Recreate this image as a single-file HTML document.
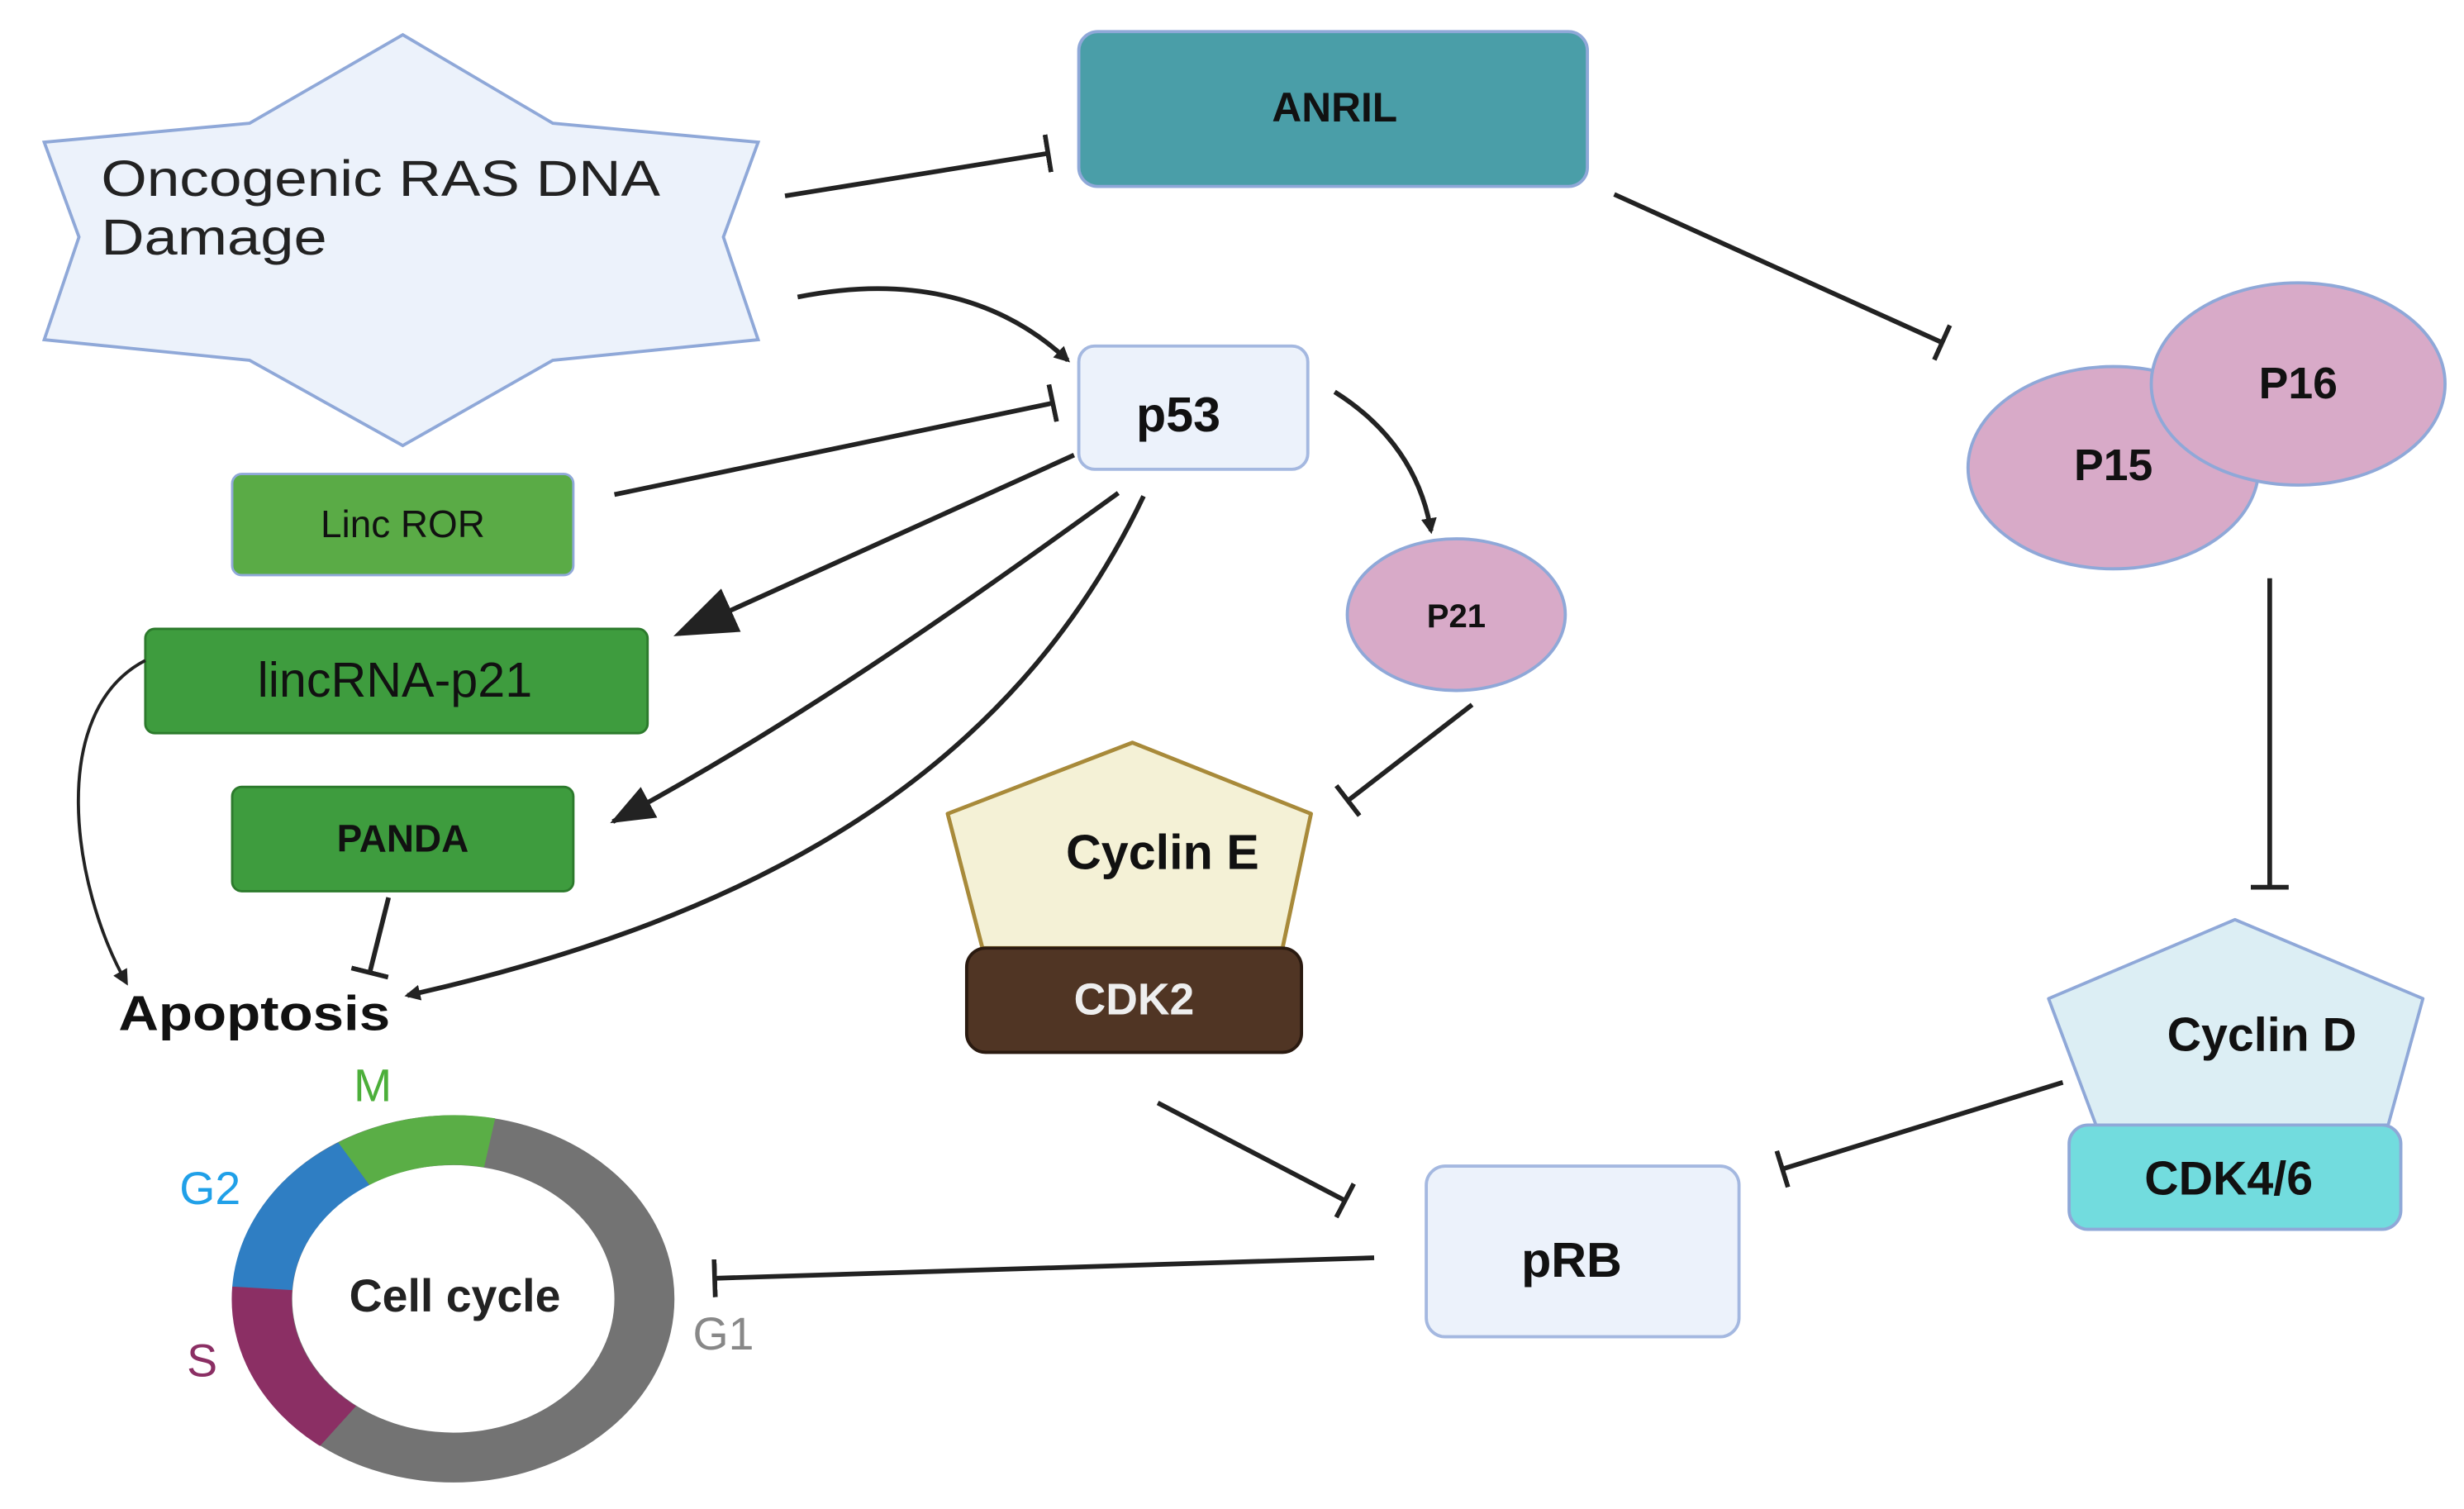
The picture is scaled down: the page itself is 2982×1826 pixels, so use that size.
<!DOCTYPE html>
<html><head><meta charset="utf-8"><style>
html,body{margin:0;padding:0;background:#fff;}
svg{display:block;}
text{font-family:"Liberation Sans",sans-serif;}
</style></head><body>
<svg width="2982" height="1826" viewBox="0 0 1560 955" preserveAspectRatio="none" xmlns="http://www.w3.org/2000/svg">
<defs>
<marker id="ah" markerWidth="10" markerHeight="10" refX="8" refY="5" orient="auto" markerUnits="userSpaceOnUse"><path d="M0,0 L10,5 L0,10 z" fill="#222"/></marker>
<marker id="ahb" markerWidth="40" markerHeight="30" refX="36" refY="15" orient="auto" markerUnits="userSpaceOnUse"><path d="M0,0 L40,15 L0,30 z" fill="#222"/></marker>
<marker id="ahm" markerWidth="28" markerHeight="22" refX="26" refY="11" orient="auto" markerUnits="userSpaceOnUse"><path d="M0,0 L28,11 L0,22 z" fill="#222"/></marker>
<marker id="tb" markerWidth="4" markerHeight="24" refX="2" refY="12" orient="auto" markerUnits="userSpaceOnUse"><rect x="0" y="0" width="3" height="24" fill="#222"/></marker>
</defs>

<polygon points="255,22 350,78 480,90 458,150 480,215 350,228 255,282 158,228 28,215 50,150 28,90 158,78" fill="#ecf2fb" stroke="#8fa8d8" stroke-width="2"/>
<text x="64" y="124" font-size="32" fill="#222" textLength="354" lengthAdjust="spacingAndGlyphs">Oncogenic RAS DNA</text>
<text x="64" y="161" font-size="32" fill="#222" textLength="143" lengthAdjust="spacingAndGlyphs">Damage</text>

<rect x="683" y="20" width="322" height="98" rx="12" fill="#4a9ea8" stroke="#8fa8d8" stroke-width="2"/>
<text x="845" y="77" font-size="26" font-weight="bold" text-anchor="middle" fill="#111">ANRIL</text>

<rect x="683" y="219" width="145" height="78" rx="10" fill="#ecf2fb" stroke="#a4b8e0" stroke-width="2"/>
<text x="746" y="273" font-size="31" font-weight="bold" text-anchor="middle" fill="#111">p53</text>

<rect x="147" y="300" width="216" height="64" rx="6" fill="#5aab46" stroke="#8fa8d8" stroke-width="1.5"/>
<text x="255" y="340" font-size="24" text-anchor="middle" fill="#111">Linc ROR</text>

<rect x="92" y="398" width="318" height="66" rx="6" fill="#3e9c3e" stroke="#2c7a2c" stroke-width="1.5"/>
<text x="250" y="441" font-size="31" text-anchor="middle" fill="#111">lincRNA-p21</text>

<rect x="147" y="498" width="216" height="66" rx="6" fill="#3e9c3e" stroke="#2c7a2c" stroke-width="1.5"/>
<text x="255" y="539" font-size="24" font-weight="bold" text-anchor="middle" fill="#111">PANDA</text>

<text x="75" y="652" font-size="31" font-weight="bold" fill="#111" textLength="172" lengthAdjust="spacingAndGlyphs">Apoptosis</text>

<ellipse cx="922" cy="389" rx="69" ry="48" fill="#d8aac8" stroke="#8fa8d8" stroke-width="2"/>
<text x="922" y="397" font-size="21" font-weight="bold" text-anchor="middle" fill="#111">P21</text>

<ellipse cx="1338" cy="296" rx="92" ry="64" fill="#d8aac8" stroke="#8fa8d8" stroke-width="2"/>
<ellipse cx="1455" cy="243" rx="93" ry="64" fill="#d8aac8" stroke="#8fa8d8" stroke-width="2"/>
<text x="1338" y="304" font-size="28" font-weight="bold" text-anchor="middle" fill="#111">P15</text>
<text x="1455" y="252" font-size="28" font-weight="bold" text-anchor="middle" fill="#111">P16</text>

<polygon points="717,470 830,515 812,600 622,600 600,515" fill="#f4f1d6" stroke="#a88a3a" stroke-width="2.5" stroke-linejoin="round"/>
<rect x="612" y="600" width="212" height="66" rx="12" fill="#503524" stroke="#2a1a10" stroke-width="2"/>
<text x="736" y="550" font-size="31" font-weight="bold" text-anchor="middle" fill="#111">Cyclin E</text>
<text x="718" y="642" font-size="28" font-weight="bold" text-anchor="middle" fill="#eee">CDK2</text>

<polygon points="1415,582 1534,632 1512,712 1327,712 1297,632" fill="#dceef4" stroke="#8fa8d8" stroke-width="2" stroke-linejoin="round"/>
<rect x="1310" y="712" width="210" height="66" rx="12" fill="#72dcde" stroke="#8fa8d8" stroke-width="2"/>
<text x="1432" y="665" font-size="30" font-weight="bold" text-anchor="middle" fill="#111">Cyclin D</text>
<text x="1411" y="756" font-size="30" font-weight="bold" text-anchor="middle" fill="#111">CDK4/6</text>

<rect x="903" y="738" width="198" height="108" rx="12" fill="#ecf2fb" stroke="#a4b8e0" stroke-width="2"/>
<text x="995" y="808" font-size="31" font-weight="bold" text-anchor="middle" fill="#111">pRB</text>

<g transform="translate(287,822) scale(1,0.83)" fill="none" stroke-width="38">
<circle r="121" stroke="#737373"/>
<path d="M23,-119 A121,121 0 0 0 -63,-103" stroke="#5aae46"/>
<path d="M-63,-103 A121,121 0 0 0 -121,-8" stroke="#2f7ec3"/>
<path d="M-121,-8 A121,121 0 0 0 -73,97" stroke="#8b2f64"/>
</g>
<text x="288" y="830" font-size="29" font-weight="bold" text-anchor="middle" fill="#222">Cell cycle</text>
<text x="236" y="697" font-size="29" text-anchor="middle" fill="#4caf3a">M</text>
<text x="133" y="762" font-size="29" text-anchor="middle" fill="#20a0e8">G2</text>
<text x="128" y="871" font-size="29" text-anchor="middle" fill="#8b2f64">S</text>
<text x="458" y="854" font-size="29" text-anchor="middle" fill="#888">G1</text>

<g stroke="#222" stroke-width="3" fill="none">
<line x1="497" y1="124" x2="664" y2="97" marker-end="url(#tb)"/>
<path d="M505,188 C570,175 630,185 676,228" marker-end="url(#ah)"/>
<line x1="389" y1="313" x2="667" y2="255" marker-end="url(#tb)"/>
<line x1="1022" y1="123" x2="1230" y2="217" marker-end="url(#tb)"/>
<path d="M845,248 C880,270 900,300 906,336" marker-end="url(#ah)"/>
<line x1="680" y1="288" x2="430" y2="401" marker-end="url(#ahb)"/>
<path d="M708,312 C600,390 500,460 388,520" marker-end="url(#ahm)"/>
<path d="M724,314 C640,490 480,580 258,630" marker-end="url(#ah)"/>
<path d="M92,418 C30,450 45,560 80,622" stroke-width="2" marker-end="url(#ah)"/>
<line x1="246" y1="568" x2="234" y2="616" marker-end="url(#tb)"/>
<line x1="932" y1="446" x2="853" y2="507" marker-end="url(#tb)"/>
<line x1="1437" y1="366" x2="1437" y2="562" marker-end="url(#tb)"/>
<line x1="1306" y1="685" x2="1128" y2="740" marker-end="url(#tb)"/>
<line x1="733" y1="698" x2="852" y2="760" marker-end="url(#tb)"/>
<line x1="870" y1="796" x2="452" y2="809" marker-end="url(#tb)"/>
</g>
</svg>
</body></html>
